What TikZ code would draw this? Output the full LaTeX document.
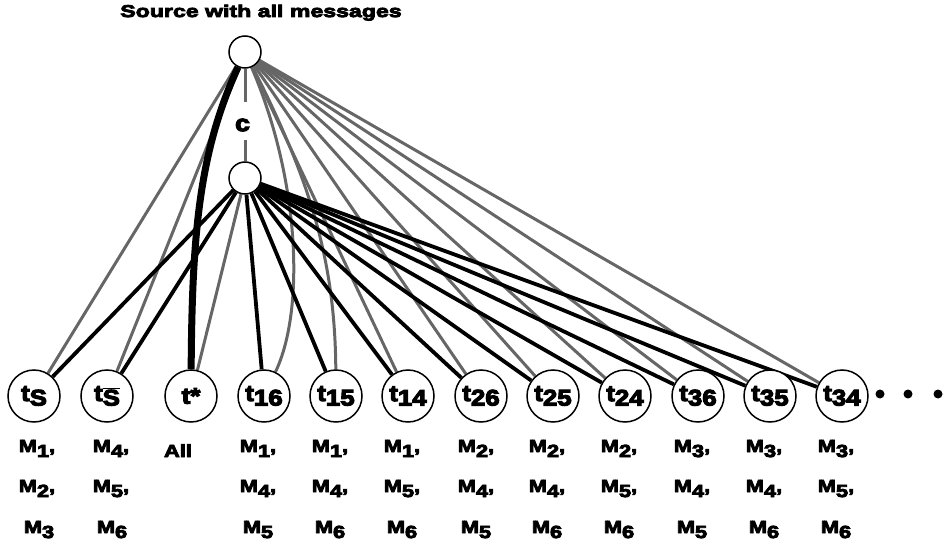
\documentclass[tikz,border=0pt]{standalone}
\usepackage{fontspec}
\setmainfont{Liberation Sans}
\newfontfamily\ttlfont{Liberation Sans Bold}[FakeBold=5,FakeStretch=1.36]
\newfontfamily\labfont{Liberation Sans Bold}[FakeBold=5,FakeStretch=1.25]
\newfontfamily\nodfont{Liberation Sans Bold}[FakeBold=5,FakeStretch=1.15]
\usetikzlibrary{backgrounds}
\definecolor{eg}{RGB}{102,102,102}
\newcommand{\lsub}[1]{\raisebox{-5pt}{#1}}
\newcommand{\nsub}[1]{\raisebox{-4.5pt}{#1}}
\tikzset{
  gl/.style={draw=eg, line width=3pt},
  bl/.style={draw=black, line width=3.8pt},
  thk/.style={draw=black, line width=7pt},
  topn/.style={circle, draw, line width=1.5pt, fill=white, minimum size=32pt, inner sep=0pt},
  tnode/.style={circle, draw, line width=1.5pt, fill=white, minimum size=52pt, inner sep=0pt,
    font=\nodfont\fontsize{22.5}{24}\selectfont},
  lab/.style={font=\labfont\fontsize{17.5}{20}\selectfont, inner sep=0pt, anchor=base},
  ttl/.style={font=\ttlfont\fontsize{17}{19}\selectfont, inner sep=0pt, anchor=base},
  cnode/.style={font=\nodfont\fontsize{23}{24}\selectfont, inner sep=0pt},
  dotn/.style={circle, fill=black, minimum size=9pt, inner sep=0pt},
}
\begin{document}
\begin{tikzpicture}[x=1pt,y=-1pt]
\useasboundingbox (0,0) rectangle (943,543);
\node[ttl] (title) at (261,17) {Source with all messages};
\node[topn] (src) at (245,52) {};
\node[topn] (mid) at (245,178) {};
\node[cnode] (c) at (242.5,125) {c};
\coordinate (cgT) at (245,102);
\coordinate (cgB) at (245,140);
% bottom nodes
\node[tnode] (ts)  at (34,396)  {t\nsub{S}};
\node[tnode] (tsb) at (107,396) {t\nsub{$\overline{\hbox{S}}$}};
\node[tnode] (tst) at (191,396) {t*};
\node[tnode] (t16) at (264,396) {t\nsub{16}};
\node[tnode] (t15) at (336,396) {t\nsub{15}};
\node[tnode] (t14) at (408,396) {t\nsub{14}};
\node[tnode] (t26) at (481,396) {t\nsub{26}};
\node[tnode] (t25) at (553,396) {t\nsub{25}};
\node[tnode] (t24) at (625,396) {t\nsub{24}};
\node[tnode] (t36) at (698,396) {t\nsub{36}};
\node[tnode] (t35) at (770,396) {t\nsub{35}};
\node[tnode] (t34) at (842,396) {t\nsub{34}};
\node[dotn] (d1) at (880,394) {};
\node[dotn] (d2) at (908,394) {};
\node[dotn] (d3) at (938,394) {};
% labels
\node[lab] (la1) at (37,452) {M\lsub{1},};
\node[lab] (la2) at (37,492) {M\lsub{2},};
\node[lab] (la3) at (39,533) {M\lsub{3}};
\node[lab] (lb1) at (111,452) {M\lsub{4},};
\node[lab] (lb2) at (111,492) {M\lsub{5},};
\node[lab] (lb3) at (112,533) {M\lsub{6}};
\node[lab] (lall) at (178,457) {All};
\node[lab] (lc1) at (258,452) {M\lsub{1},};
\node[lab] (lc2) at (258,492) {M\lsub{4},};
\node[lab] (lc3) at (258,533) {M\lsub{5}};
\node[lab] (ld1) at (330,452) {M\lsub{1},};
\node[lab] (ld2) at (330,492) {M\lsub{4},};
\node[lab] (ld3) at (330,533) {M\lsub{6}};
\node[lab] (le1) at (402,452) {M\lsub{1},};
\node[lab] (le2) at (402,492) {M\lsub{5},};
\node[lab] (le3) at (402,533) {M\lsub{6}};
\node[lab] (lf1) at (476,452) {M\lsub{2},};
\node[lab] (lf2) at (476,492) {M\lsub{4},};
\node[lab] (lf3) at (476,533) {M\lsub{5}};
\node[lab] (lg1) at (547,452) {M\lsub{2},};
\node[lab] (lg2) at (547,492) {M\lsub{4},};
\node[lab] (lg3) at (547,533) {M\lsub{6}};
\node[lab] (lh1) at (619,452) {M\lsub{2},};
\node[lab] (lh2) at (619,492) {M\lsub{5},};
\node[lab] (lh3) at (619,533) {M\lsub{6}};
\node[lab] (li1) at (692,452) {M\lsub{3},};
\node[lab] (li2) at (692,492) {M\lsub{4},};
\node[lab] (li3) at (692,533) {M\lsub{5}};
\node[lab] (lj1) at (764,452) {M\lsub{3},};
\node[lab] (lj2) at (764,492) {M\lsub{4},};
\node[lab] (lj3) at (764,533) {M\lsub{6}};
\node[lab] (lk1) at (836,452) {M\lsub{3},};
\node[lab] (lk2) at (836,492) {M\lsub{5},};
\node[lab] (lk3) at (836,533) {M\lsub{6}};
\begin{scope}[on background layer]
  \draw[gl] (src) -- (cgT);
  \draw[gl] (cgB) -- (mid);
  \foreach \n in {ts,tsb,t14,t26,t25,t24,t36,t35,t34} \draw[gl] (src) -- (\n);
  \draw[gl] (src) .. controls (300,180) and (305,310) .. (t16);
  \draw[gl] (src) .. controls (310,180) and (335,260) .. (t15);
  \draw[gl] (mid) -- (tst);
  \foreach \n in {ts,tsb,t16,t15,t14,t26,t25,t24,t36,t35,t34} \draw[bl] (mid) -- (\n);
  \draw[thk] (src) .. controls (200,150) and (192,230) .. (tst);
\end{scope}
\end{tikzpicture}
\end{document}
